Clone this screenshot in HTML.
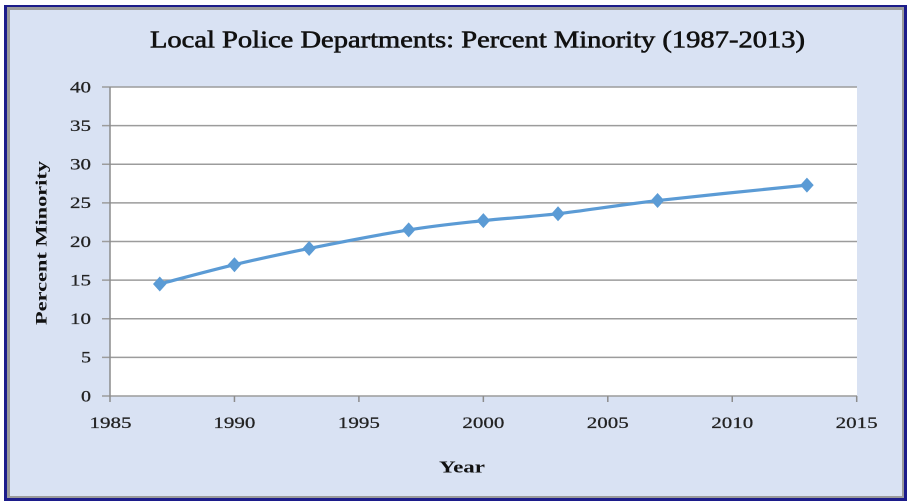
<!DOCTYPE html>
<html>
<head>
<meta charset="utf-8">
<style>
  html, body { margin: 0; padding: 0; background: #ffffff; }
  svg { display: block; }
</style>
</head>
<body>
<svg width="909" height="504" viewBox="0 0 909 504" xmlns="http://www.w3.org/2000/svg">
  <!-- frame -->
  <rect x="0" y="0" width="909" height="504" fill="#ffffff"/>
  <rect x="4" y="5" width="903" height="496" fill="#1c1c8a"/>
  <rect x="7" y="7" width="897" height="491" fill="#9a9a9a"/>
  <rect x="10" y="10" width="892" height="486" fill="#d9e2f3"/>

  <!-- title -->
  <text x="150" y="47.5" font-family="'Liberation Serif', serif" font-size="24" fill="#111" stroke="#111" stroke-width="0.6" textLength="655" lengthAdjust="spacingAndGlyphs">Local Police Departments: Percent Minority (1987-2013)</text>

  <!-- plot area -->
  <rect x="110" y="87" width="747" height="309" fill="#ffffff"/>

  <!-- gridlines -->
  <g stroke="#9c9c9c" stroke-width="1.5">
    <line x1="102" y1="87" x2="857" y2="87"/>
    <line x1="102" y1="125.6" x2="857" y2="125.6"/>
    <line x1="102" y1="164.25" x2="857" y2="164.25"/>
    <line x1="102" y1="202.9" x2="857" y2="202.9"/>
    <line x1="102" y1="241.5" x2="857" y2="241.5"/>
    <line x1="102" y1="280.1" x2="857" y2="280.1"/>
    <line x1="102" y1="318.75" x2="857" y2="318.75"/>
    <line x1="102" y1="357.4" x2="857" y2="357.4"/>
    <line x1="102" y1="396" x2="857" y2="396"/>
  </g>
  <!-- axes -->
  <g stroke="#8c8c8c" stroke-width="1.5">
    <line x1="110" y1="87" x2="110" y2="402"/>
    <line x1="234.45" y1="396" x2="234.45" y2="402"/>
    <line x1="358.9" y1="396" x2="358.9" y2="402"/>
    <line x1="483.35" y1="396" x2="483.35" y2="402"/>
    <line x1="607.8" y1="396" x2="607.8" y2="402"/>
    <line x1="732.25" y1="396" x2="732.25" y2="402"/>
    <line x1="856.7" y1="396" x2="856.7" y2="402"/>
  </g>

  <!-- y tick labels -->
  <g font-family="'Liberation Serif', serif" font-size="16" fill="#222" stroke="#222" stroke-width="0.25" text-anchor="end">
    <text x="91" y="92.3" textLength="21" lengthAdjust="spacingAndGlyphs">40</text>
    <text x="91" y="130.9" textLength="21" lengthAdjust="spacingAndGlyphs">35</text>
    <text x="91" y="169.5" textLength="21" lengthAdjust="spacingAndGlyphs">30</text>
    <text x="91" y="208.2" textLength="21" lengthAdjust="spacingAndGlyphs">25</text>
    <text x="91" y="246.8" textLength="21" lengthAdjust="spacingAndGlyphs">20</text>
    <text x="91" y="285.4" textLength="21" lengthAdjust="spacingAndGlyphs">15</text>
    <text x="91" y="324" textLength="21" lengthAdjust="spacingAndGlyphs">10</text>
    <text x="91" y="362.7" textLength="10" lengthAdjust="spacingAndGlyphs">5</text>
    <text x="91" y="401.3" textLength="10" lengthAdjust="spacingAndGlyphs">0</text>
  </g>

  <!-- x tick labels -->
  <g font-family="'Liberation Serif', serif" font-size="16" fill="#222" stroke="#222" stroke-width="0.25" text-anchor="middle">
    <text x="110.5" y="428" textLength="42" lengthAdjust="spacingAndGlyphs">1985</text>
    <text x="234.45" y="428" textLength="42" lengthAdjust="spacingAndGlyphs">1990</text>
    <text x="358.9" y="428" textLength="42" lengthAdjust="spacingAndGlyphs">1995</text>
    <text x="483.35" y="428" textLength="42" lengthAdjust="spacingAndGlyphs">2000</text>
    <text x="607.8" y="428" textLength="42" lengthAdjust="spacingAndGlyphs">2005</text>
    <text x="732.25" y="428" textLength="42" lengthAdjust="spacingAndGlyphs">2010</text>
    <text x="856.7" y="428" textLength="42" lengthAdjust="spacingAndGlyphs">2015</text>
  </g>

  <!-- axis titles -->
  <text x="462" y="472.5" font-family="'Liberation Serif', serif" font-size="17" font-weight="bold" fill="#111" text-anchor="middle" textLength="46" lengthAdjust="spacingAndGlyphs">Year</text>
  <text transform="translate(46.5,243) rotate(-90)" x="0" y="0" font-family="'Liberation Serif', serif" font-size="16" font-weight="bold" fill="#111" text-anchor="middle" textLength="164" lengthAdjust="spacingAndGlyphs">Percent Minority</text>

  <!-- series line -->
  <path d="M159.78,283.99 C172.23,280.77 209.56,270.60 234.45,264.68 C259.34,258.76 280.08,254.25 309.12,248.45 C338.16,242.65 379.64,234.55 408.68,229.91 C437.72,225.27 458.46,223.34 483.35,220.64 C508.24,217.94 528.98,217.04 558.02,213.69 C587.06,210.34 616.10,205.32 657.58,200.56 C699.06,195.80 782.03,187.69 806.92,185.11"
        fill="none" stroke="#5b9bd5" stroke-width="3.2" stroke-linecap="round" stroke-linejoin="round"/>

  <!-- markers -->
  <g fill="#5b9bd5">
    <path d="M159.78,276.5 L166.5,283.99 L159.78,291.5 L153,283.99 Z"/>
    <path d="M234.45,257.2 L241.2,264.68 L234.45,272.2 L227.7,264.68 Z"/>
    <path d="M309.12,240.95 L315.9,248.45 L309.12,255.95 L302.4,248.45 Z"/>
    <path d="M408.68,222.4 L415.4,229.91 L408.68,237.4 L401.9,229.91 Z"/>
    <path d="M483.35,213.14 L490.1,220.64 L483.35,228.14 L476.6,220.64 Z"/>
    <path d="M558.02,206.19 L564.8,213.69 L558.02,221.19 L551.3,213.69 Z"/>
    <path d="M657.58,193.06 L664.3,200.56 L657.58,208.06 L650.8,200.56 Z"/>
    <path d="M806.92,177.61 L813.7,185.11 L806.92,192.61 L800.2,185.11 Z"/>
  </g>
</svg>
</body>
</html>
